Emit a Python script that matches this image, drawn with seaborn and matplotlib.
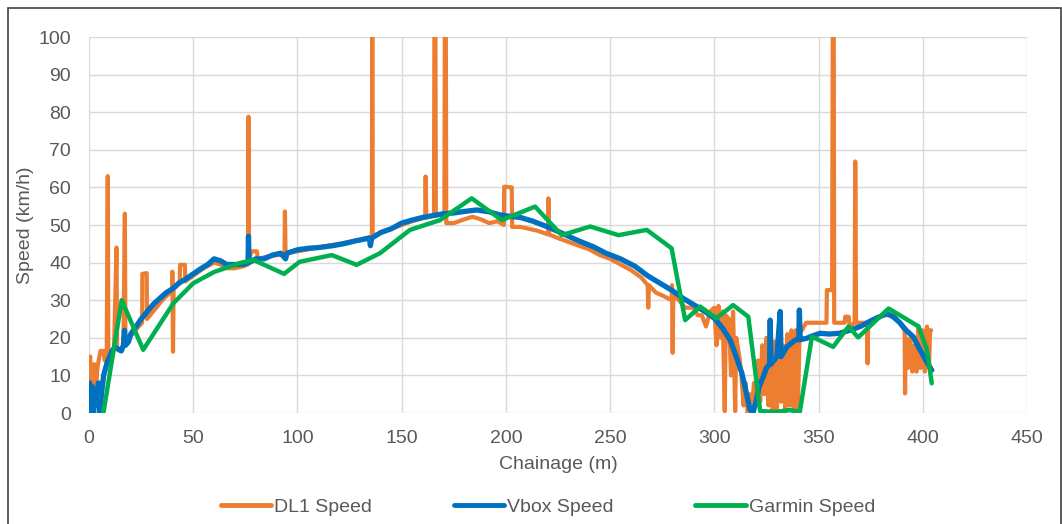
import numpy as np
import pandas as pd
import seaborn as sns
import matplotlib
matplotlib.use("Agg")
import matplotlib.pyplot as plt
from matplotlib.patches import Rectangle
from matplotlib.lines import Line2D

# DL1 speed (chainage m, km/h) - noisy, with spikes
dl1_x = [0, 0.6, 1, 1.5, 2.5, 3.2, 4, 5, 5.5, 7, 7.5, 8.5, 9, 9.3, 10.5, 12, 13.2, 13.5, 15, 16.5,
         17.2, 17.5, 19, 21, 23, 25.5, 25.6, 27.7, 27.8, 30, 33, 36, 39.8, 40, 40.3, 40.6, 43.5, 43.7, 46, 46.2,
         50, 55, 60, 63, 66, 70, 74, 76.3, 76.5, 76.8, 78, 80.5, 81, 85, 90, 93.8, 94, 94.3, 100, 105,
         110, 115, 120, 125, 130, 135.7, 135.9, 136.1, 140, 145, 150, 155, 161.3, 161.5, 161.8, 165.5, 165.7, 166.2, 166.4, 170.5,
         170.7, 171.2, 171.4, 175, 180, 184, 188, 192, 196, 199, 199.2, 202.8, 203, 207, 211, 215, 220.2, 220.4, 220.7, 225,
         230, 235, 240, 245, 250, 255, 260, 265, 268, 268.3, 268.6, 272, 276, 279.5, 279.7, 280, 280.3, 283, 286, 290,
         292, 294, 296, 298, 300, 301, 302, 303, 304, 305, 305.5, 307, 308, 309, 310, 310.5, 312, 313, 314, 315,
         316, 317, 318, 319, 320, 321, 322, 323, 324, 325, 326, 327, 328, 329, 330, 331, 332, 333, 334, 335,
         336, 337, 338, 339, 340, 341, 342, 344, 348, 352, 353.8, 354, 356.5, 356.8, 357.3, 357.5, 360, 362.5, 362.8, 364.5,
         364.8, 367.3, 367.6, 368, 372, 373.3, 373.5, 373.8, 378, 382, 386, 389, 391.3, 391.5, 391.8, 393, 394, 395, 396, 397,
         398, 399, 400, 401, 402, 403, 403.5, 404]
dl1_y = [15, 15, 6, 12, 13, 4, 12, 15, 16.5, 16.5, 14, 16, 63, 14, 16, 17, 44, 17, 16.5, 18,
         53, 18, 20, 21, 22.5, 24, 37, 37.2, 25, 26.5, 28.5, 30.5, 32.5, 37.6, 16.3, 33, 34.5, 39.4, 39.4, 35,
         36.5, 38.5, 40, 39.5, 38.5, 38.5, 39, 39.5, 78.8, 41, 43, 43, 41, 41.5, 42, 42, 53.6, 42.5, 43, 43.5,
         44, 44.5, 45, 45.5, 46, 47, 100, 47, 48, 49, 50, 51, 52, 62.9, 52, 52.5, 100, 100, 52.5, 53,
         100, 100, 50.5, 50.5, 51.5, 52.2, 51.5, 50.5, 51, 50, 60.2, 60, 49.5, 49.5, 49, 48.5, 47.5, 57.1, 47.5, 46.5,
         45.5, 44.5, 43.5, 42, 41, 39.5, 38, 36, 34, 28, 34, 32, 31, 30, 34, 16, 31, 30, 28, 28,
         26, 26, 23, 27, 28, 18, 28.5, 20, 27, 0.5, 26, 25, 10, 27, 0.5, 20, 15, 10, 2, 8,
         0, 5, 0, 8, 2, 14, 3, 18, 5, 20, 2, 15, 0, 19, 1, 20, 3, 18, 0, 21,
         2, 22, 0, 22, 0, 23, 22, 24, 24, 24, 24, 32.7, 32.7, 100, 100, 24, 24, 24, 25.6, 25.6,
         23, 24, 66.9, 24, 24, 24, 13.2, 24, 25.5, 26, 26, 24, 22, 5.2, 20, 12, 20, 11, 18, 11,
         23, 12, 22, 11, 23, 12, 22, 22]

# Vbox speed
vbox_x = [0, 0.3, 1, 1.6, 2.2, 3, 3.8, 4.5, 5.2, 6, 7, 8, 9, 10, 11, 12.5, 14, 15.5, 16.5, 17,
          17.5, 19, 20, 22, 25, 28, 31, 34, 37, 40, 43, 46, 50, 54, 57, 60, 63, 66, 70, 74,
          76.3, 76.5, 76.8, 80, 84, 88, 92, 94.3, 95, 100, 105, 110, 117, 122, 128, 134.5, 135, 135.6, 140, 145,
          150, 155, 160, 165, 170, 175, 180, 186, 192, 197, 202, 207, 213, 220, 227, 234, 242, 248, 255, 262,
          268, 274, 280, 285, 291.6, 296, 300, 304, 307.6, 310.5, 313.2, 315.5, 317, 318.5, 320, 321.5, 323.5, 325, 326.5, 326.8,
          327.2, 330, 331.6, 332, 334.8, 338.8, 340.5, 340.8, 341.2, 344.4, 347, 350.8, 355, 360, 365, 370, 375, 379, 382.8, 386,
          389, 392, 395.4, 398, 400, 402, 404.3]
vbox_y = [0, 8, 3, 7, 0, 6, 2, 8, 0, 5, 10, 12, 14, 15, 16.5, 17.5, 17, 16.5, 18, 22,
          18, 19, 21, 22.5, 25, 27, 29, 30.5, 32, 33, 34.5, 35.5, 37, 38.5, 39.5, 41, 40.5, 39.5, 39.5, 39.5,
          40, 47, 40, 41, 41, 42, 42.5, 41, 42.5, 43.4, 43.8, 44, 44.5, 45, 45.8, 46.5, 44.5, 46.5, 48, 49,
          50.5, 51.3, 52, 52.5, 53, 53.2, 53.6, 54, 53.5, 52.7, 52.3, 52, 51, 49.5, 47.8, 46, 44.2, 42.5, 41, 39,
          36.5, 34.5, 32.5, 30.5, 28.3, 26.8, 25.2, 22.5, 19.4, 15, 10.6, 5, 1, 0, 3, 7, 9.7, 12, 13, 24.7,
          13, 15, 27, 15, 17.6, 19.4, 19.5, 27.4, 19.5, 19.9, 20.5, 21.2, 21, 21.2, 22, 23, 24.5, 25.5, 26.5, 25.5,
          24, 22, 20.3, 17.5, 15.5, 13.5, 11.4]

# Garmin speed
garmin_x = [6.9, 15.7, 26, 40.5, 50, 60, 72.5, 78.9, 93.6, 101, 116.5, 128.4, 139.6, 154, 168.4, 183.6, 198, 214, 226.8, 240.4,
            254, 267.6, 279.5, 286, 293.2, 301, 309, 316.3, 322, 330, 336, 341, 346.8, 357, 364.4, 369, 383.6, 398, 402, 404.3]
garmin_y = [0, 30, 16.8, 29.2, 34.5, 37.5, 39.9, 40.7, 37, 40.2, 42, 39.4, 42.5, 48.7, 51.3, 57.1, 51.3, 54.9, 47.3, 49.6,
            47.3, 48.7, 43.8, 24.7, 28.3, 25.2, 28.7, 25.6, 0.5, 0.3, 0.8, 0.3, 20.3, 17.6, 23, 20.1, 27.8, 23, 16.8, 7.9]

labels = ["DL1 Speed", "Vbox Speed", "Garmin Speed"]
colors = ["#ED7D31", "#0070C0", "#00B050"]

sns.set_style("white")
plt.rcParams['font.family'] = ['Liberation Sans', 'DejaVu Sans']
txt = "#595959"

fig = plt.figure(figsize=(10.62, 5.24), dpi=100)
ax = fig.add_axes([89/1062, 1 - 413/524, (1027 - 89)/1062, (413 - 37)/524])

dl1 = pd.DataFrame({"x": dl1_x, "y": dl1_y})
vbox = pd.DataFrame({"x": vbox_x, "y": vbox_y})
garmin = pd.DataFrame({"x": garmin_x, "y": garmin_y})

sns.lineplot(data=dl1, x="x", y="y", ax=ax, color=colors[0], lw=3.0,
             estimator=None, sort=False)
sns.lineplot(data=vbox, x="x", y="y", ax=ax, color=colors[1], lw=3.8,
             estimator=None, sort=False)
sns.lineplot(data=garmin, x="x", y="y", ax=ax, color=colors[2], lw=3.2,
             estimator=None, sort=False)

ax.set_xlim(0, 450)
ax.set_ylim(0, 100)
ax.set_xticks(range(0, 451, 50))
ax.set_yticks(range(0, 101, 10))
ax.grid(True, color="#d9d9d9", lw=1)
ax.set_axisbelow(True)
for s in ax.spines.values():
    s.set_visible(False)
ax.tick_params(length=0, labelsize=14, labelcolor=txt)
ax.tick_params(axis="y", pad=13)
ax.tick_params(axis="x", pad=12)
ax.set_xlabel("Chainage (m)", fontsize=14, color=txt, labelpad=7)
ax.set_ylabel("Speed (km/h)", fontsize=14, color=txt, labelpad=3)

handles = [Line2D([], [], color=c, lw=3.5) for c in colors]
fig.legend(handles, labels, loc="center", bbox_to_anchor=(548/1062, 1 - 507/524),
           ncol=3, frameon=False, fontsize=14, labelcolor=txt,
           handlelength=2.6, handletextpad=0.15, columnspacing=4.2)

fig.add_artist(Rectangle((8/1062, -0.1), (1061 - 8)/1062, 1.1 - 8/524, fill=False,
                         ec="#404040", lw=1.2, transform=fig.transFigure))

fig.savefig("out.png", dpi=100)
